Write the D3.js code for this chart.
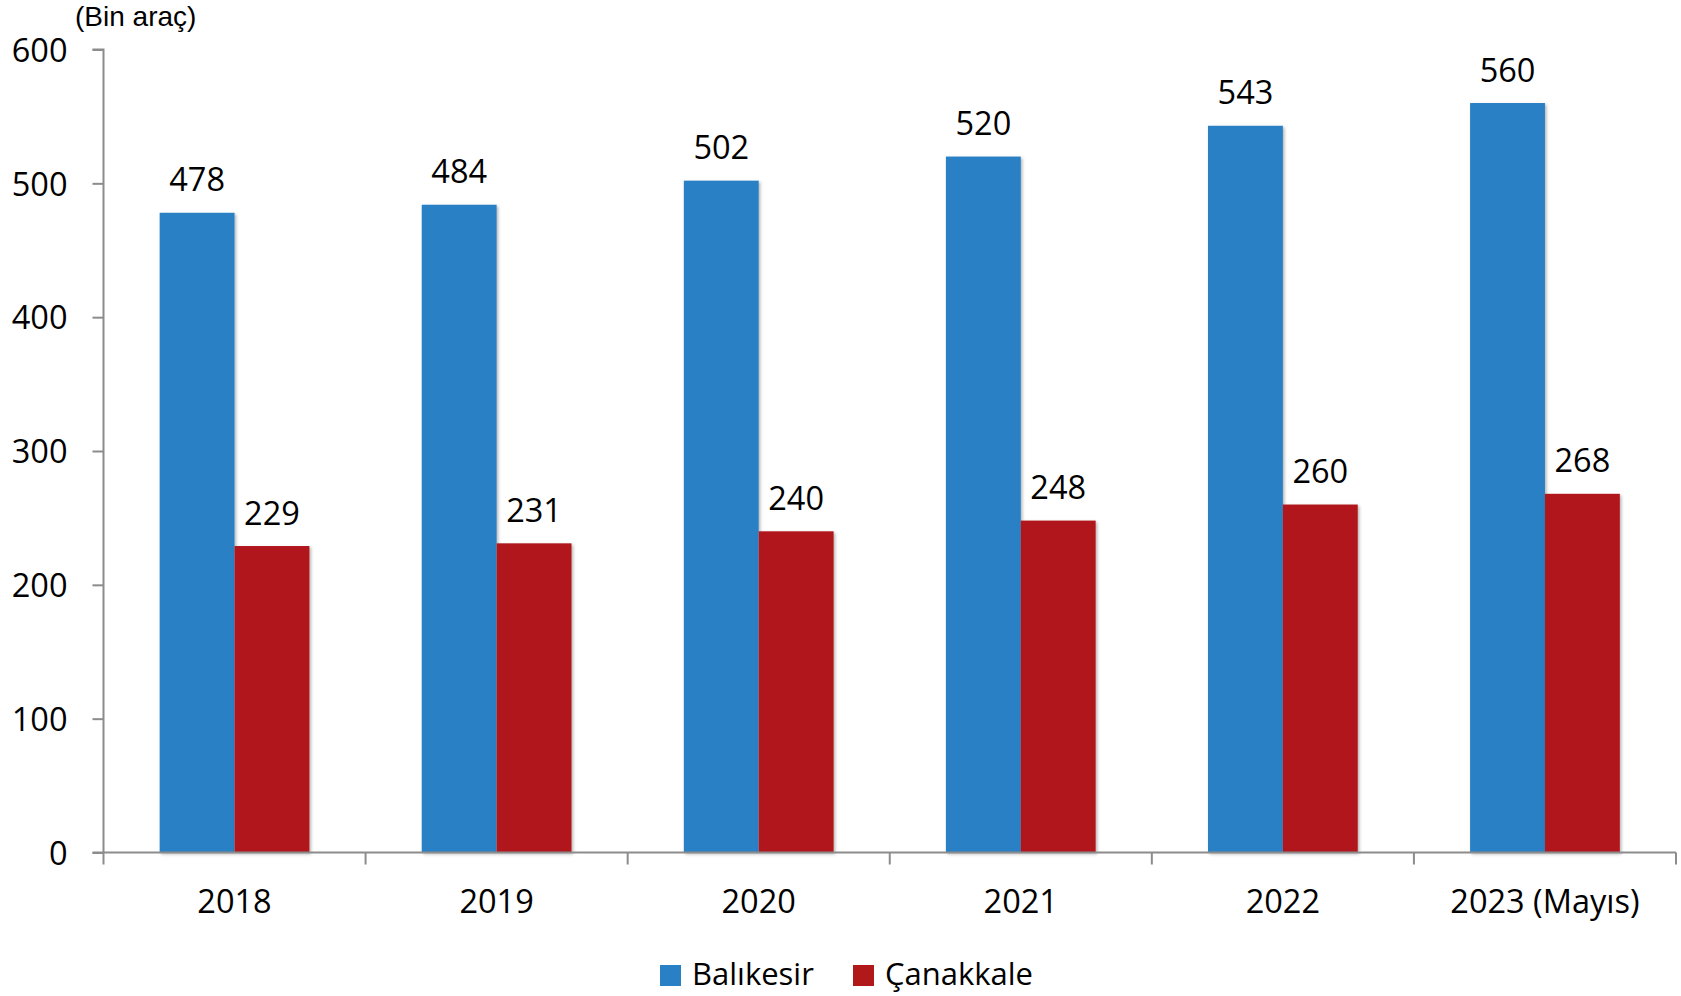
<!DOCTYPE html>
<html><head><meta charset="utf-8">
<script src="https://cdn.jsdelivr.net/npm/d3@7"></script>
<style>body{margin:0;background:#fff}svg{display:block}</style>
</head><body>
<svg id="c" width="1681" height="996"></svg>
<script>
const categories = ["2018","2019","2020","2021","2022","2023 (Mayıs)"];
const seriesNames = ["Balıkesir","Çanakkale"];
const balikesir = [478,484,502,520,543,560];
const canakkale = [229,231,240,248,260,268];
const yTicks = [0,100,200,300,400,500,600];
const colors = ["#2980c5","#b0181a"];

const svg = d3.select("#c");
const L = 103.5, R = 1676, T = 49.5, B = 852.5;
const FS = 32.5;
const x = d3.scaleBand().domain(categories).range([L, R]).padding(0);
const x1 = d3.scaleBand().domain(seriesNames).range([0, x.bandwidth()]).paddingInner(0).paddingOuter(0.75);
const y = d3.scaleLinear().domain([0,600]).range([B, T]);

const defs = svg.append("defs");
const f = defs.append("filter").attr("id","sh").attr("x","-10%").attr("y","-10%").attr("width","130%").attr("height","130%");
f.append("feDropShadow").attr("dx",1.5).attr("dy",1.5).attr("stdDeviation",1.5).attr("flood-color","#000").attr("flood-opacity",0.3);

const data = categories.map((c,i)=>({c, vals:[balikesir[i], canakkale[i]]}));
const g = svg.append("g");
data.forEach(d=>{
  d.vals.forEach((v,j)=>{
    g.append("rect").attr("x", x(d.c)+x1(seriesNames[j])).attr("y", y(v))
      .attr("width", x1.bandwidth()).attr("height", B - y(v))
      .attr("fill", colors[j]).attr("filter","url(#sh)");
  });
});
// data labels
data.forEach(d=>{
  d.vals.forEach((v,j)=>{
    svg.append("text").attr("x", x(d.c)+x1(seriesNames[j])+x1.bandwidth()/2).attr("y", y(v)-21.5)
      .attr("text-anchor","middle").attr("font-family","Open Sans").attr("font-size",FS).attr("fill","#000").text(v);
  });
});

// y axis
const yAxis = d3.axisLeft(y).tickValues(yTicks).tickSize(11).tickPadding(25).tickFormat(d3.format("d"));
const ya = svg.append("g").attr("transform",`translate(${L},0)`).call(yAxis);
ya.select(".domain").attr("stroke","#8c8c8c").attr("stroke-width",2).attr("d",`M-11,${T}H0V${B}`);
ya.selectAll(".tick line").attr("stroke","#8c8c8c").attr("stroke-width",2);
ya.selectAll(".tick text").attr("font-family","Open Sans").attr("font-size",FS).attr("fill","#000").attr("dy","0.36em");

// x axis
const xa = svg.append("g").attr("transform",`translate(0,${B})`);
xa.append("line").attr("x1",L-11).attr("x2",R).attr("y1",0).attr("y2",0).attr("stroke","#8c8c8c").attr("stroke-width",2);
const bounds = categories.map(c=>x(c)).concat([x(categories[categories.length-1])+x.bandwidth()]);
xa.selectAll("line.tk").data(bounds).enter().append("line").attr("class","tk")
  .attr("x1",d=>d).attr("x2",d=>d).attr("y1",0).attr("y2",12).attr("stroke","#8c8c8c").attr("stroke-width",2);
xa.selectAll("text").data(categories).enter().append("text")
  .attr("x",d=>x(d)+x.bandwidth()/2).attr("y",60).attr("text-anchor","middle")
  .attr("font-family","Open Sans").attr("font-size",FS).attr("fill","#000").text(d=>d);

// unit label
svg.append("text").attr("x",75).attr("y",26).attr("font-family","Liberation Sans, Arial").attr("font-size",28).attr("fill","#000").text("(Bin araç)");

// legend
const legX = [660, 853];
seriesNames.forEach((s,j)=>{
  svg.append("rect").attr("x",legX[j]).attr("y",965).attr("width",21).attr("height",21).attr("fill",colors[j]);
  svg.append("text").attr("x",legX[j]+32).attr("y",985).attr("font-family","Open Sans").attr("font-size",31).attr("fill","#000").text(s);
});
</script>
</body></html>
